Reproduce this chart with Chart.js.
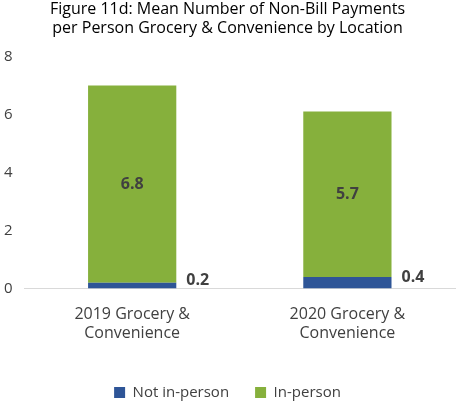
<!DOCTYPE html>
<html><head><meta charset="utf-8">
<script src="https://cdn.jsdelivr.net/npm/chart.js@4"></script>
<style>html,body{margin:0;padding:0;background:#fff}#w{width:461px;height:410px}</style>
</head><body><div id="w"><canvas id="c"></canvas></div>
<script>
const categories=[["2019 Grocery &","Convenience"],["2020 Grocery &","Convenience"]];
const notInPerson=[0.2,0.4];
const inPerson=[6.8,5.7];
const yTicks=[0,2,4,6,8];
const F="'Open Sans', sans-serif";
const labelPlugin={id:'lbl',afterDatasetsDraw(ch){
 const ctx=ch.ctx;ctx.save();ctx.font="bold 16px "+F;ctx.fillStyle="#404040";ctx.textBaseline="middle";
 const m0=ch.getDatasetMeta(0),m1=ch.getDatasetMeta(1);
 m1.data.forEach((b,i)=>{ctx.textAlign="center";ctx.fillText(inPerson[i].toFixed(1),b.x,(b.y+b.base)/2);});
 m0.data.forEach((b,i)=>{ctx.textAlign="left";ctx.fillText(notInPerson[i].toFixed(1),b.x+b.width/2+10,Math.min(b.y,b.base-8));});
 ctx.restore();}};
new Chart(document.getElementById('c'),{type:'bar',
data:{labels:categories,datasets:[
 {label:'Not in-person',data:notInPerson,backgroundColor:'#2E5597'},
 {label:'In-person',data:inPerson,backgroundColor:'#86B03C'}]},
options:{responsive:true,maintainAspectRatio:false,animation:false,
 layout:{padding:{left:0,right:6,top:0,bottom:0}},
 datasets:{bar:{barPercentage:0.41,categoryPercentage:1}},
 plugins:{title:{display:true,text:['Figure 11d: Mean Number of Non-Bill Payments','per Person Grocery & Convenience by Location'],font:{family:F,size:16,weight:'normal'},color:'#000',lineHeight:1.3,padding:{top:0,bottom:18}},
  legend:{position:'bottom',labels:{font:{family:F,size:15},color:'#404040',boxWidth:11,boxHeight:11,padding:26}},tooltip:{enabled:false}},
 scales:{x:{stacked:true,grid:{display:false,drawTicks:false},border:{color:'#d9d9d9'},ticks:{font:{family:F,size:16},color:'#404040',padding:16}},
  y:{stacked:true,min:0,max:8,afterBuildTicks:a=>{a.ticks=yTicks.map(v=>({value:v}));},grid:{display:false},border:{display:false},ticks:{font:{family:F,size:15},color:'#404040',padding:4}}}},
plugins:[labelPlugin]});
</script></body></html>
